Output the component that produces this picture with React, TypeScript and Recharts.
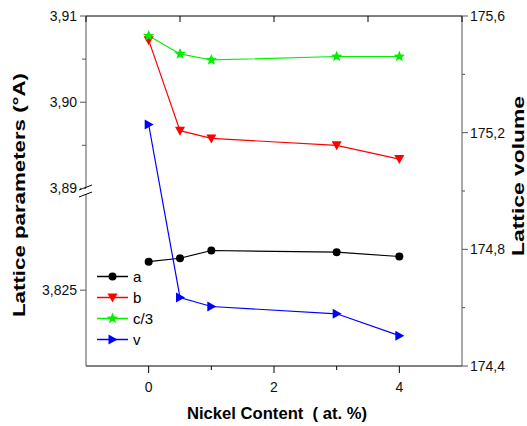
import {
    ComposedChart,
    Line,
    XAxis,
    YAxis,
    Legend,
    ReferenceDot,
    Label
} from "recharts";

const FONT = "'Liberation Sans', Arial, sans-serif";

// Nickel content (at. %)
const NICKEL = [0, 0.5, 1, 3, 4];
// lattice parameters (Å)
const A = [3.8283, 3.8287, 3.8296, 3.8294, 3.8289];
const B = [3.9072, 3.8967, 3.8958, 3.8950, 3.8934];
const C3 = [3.9077, 3.9056, 3.9049, 3.9053, 3.9053];
// lattice volume
const V = [175.228, 174.635, 174.604, 174.579, 174.504];

const X_MAJOR = [0, 2, 4];
const X_MINOR = [1, 3];
const LEFT_MAJOR = [3.91, 3.90, 3.89];
const LEFT_MINOR = [3.905, 3.895];
const LOWER_MAJOR = [3.825];
const RIGHT_MAJOR = [175.6, 175.2, 174.8, 174.4];
const RIGHT_MINOR = [175.4, 175.0, 174.6];

// the left axis is broken: the lower part (a) is shifted up by SHIFT
const SHIFT = 0.0532;
const BREAK_AT = 3.8897;
const LEFT_DOMAIN = [3.8694, 3.91];

const data = NICKEL.map((x, i) => ({
    x,
    a: A[i] + SHIFT,
    b: B[i],
    c3: C3[i],
    v: V[i],
}));

const MARKERS: Record<string, {kind: string, color: string}> = {
    a: {kind: "circle", color: "#000000"},
    b: {kind: "down", color: "#ff0000"},
    c3: {kind: "star", color: "#00f000"},
    v: {kind: "right", color: "#0000ff"},
};

const comma = (v: number, d: number) => v.toFixed(d).replace(".", ",");
const has = (list: number[], v: number) => list.some(t => Math.abs(t - v) < 1e-6);

function Marker({cx, cy, kind, color}: {cx: number, cy: number, kind: string, color: string}) {
    if (kind === "circle") return <circle cx={cx} cy={cy} r={4} fill={color}/>;
    if (kind === "down") {
        return <polygon points={`${cx - 5},${cy - 4} ${cx + 5},${cy - 4} ${cx},${cy + 5}`} fill={color}/>;
    }
    if (kind === "right") {
        return <polygon points={`${cx - 4},${cy - 5} ${cx - 4},${cy + 5} ${cx + 5},${cy}`} fill={color}/>;
    }
    const pts: string[] = [];
    for (let k = 0; k < 10; k++) {
        const r = k % 2 === 0 ? 6 : 2.6;
        const ang = -Math.PI / 2 + k * Math.PI / 5;
        pts.push(`${cx + r * Math.cos(ang)},${cy + r * Math.sin(ang)}`);
    }
    return <polygon points={pts.join(" ")} fill={color}/>;
}

const dotFor = (key: string) => (props: any) => (
    <Marker key={`${key}-${props.index}`} cx={props.cx} cy={props.cy}
            kind={MARKERS[key].kind} color={MARKERS[key].color}/>
);

function XTick(props: any) {
    const {x, y, payload} = props;
    const major = has(X_MAJOR, payload.value);
    return (
        <g>
            <line x1={x} y1={y} x2={x} y2={y + (major ? 7 : 4)} stroke="#000"/>
            {major && (
                <text x={x} y={y + 26} textAnchor="middle" fontSize={14} fontFamily={FONT} fill="#111">
                    {comma(payload.value, 0)}
                </text>
            )}
        </g>
    );
}

function TopTick(props: any) {
    const {x, y} = props;
    return <line x1={x} y1={y} x2={x} y2={y + 6} stroke="#000"/>;
}

function LeftTick(props: any) {
    const {x, y, payload} = props;
    const u = payload.value;
    const lower = u < BREAK_AT - 0.001;
    const real = lower ? u - SHIFT : u;
    const major = lower ? has(LOWER_MAJOR, real) : has(LEFT_MAJOR, real);
    return (
        <g>
            <line x1={x - (major ? 6 : 4)} y1={y} x2={x} y2={y} stroke="#555"/>
            {major && (
                <text x={x - 9} y={y} dy="0.36em" textAnchor="end" fontSize={14} fontFamily={FONT} fill="#111">
                    {comma(real, lower ? 3 : 2)}
                </text>
            )}
        </g>
    );
}

function RightTick(props: any) {
    const {x, y, payload} = props;
    const major = has(RIGHT_MAJOR, payload.value);
    return (
        <g>
            <line x1={x} y1={y} x2={x + (major ? 6 : 3)} y2={y} stroke="#555"/>
            {major && (
                <text x={x + 8} y={y} dy="0.36em" textAnchor="start" fontSize={14} fontFamily={FONT} fill="#111">
                    {comma(payload.value, 1)}
                </text>
            )}
        </g>
    );
}

function VTitle({cx, cy, text, length}: {cx: number, cy: number, text: string, length: number}) {
    return (
        <text x={cx} y={cy} transform={`rotate(-90 ${cx} ${cy})`} textAnchor="middle"
              dominantBaseline="central" fontWeight="bold" fontSize={17} fontFamily={FONT}
              textLength={length} lengthAdjust="spacingAndGlyphs" fill="#000">
            {text}
        </text>
    );
}

const leftTitle = (p: any) => (
    <VTitle cx={p.viewBox.x + 19} cy={p.viewBox.y + p.viewBox.height / 2 + 4}
            text="Lattice parameters (°A)" length={244}/>
);

const rightTitle = (p: any) => (
    <VTitle cx={p.viewBox.x + 56} cy={p.viewBox.y + p.viewBox.height / 2 - 15}
            text="Lattice volume" length={160}/>
);

const bottomTitle = (p: any) => (
    <text x={p.viewBox.x + p.viewBox.width / 2 + 3} y={p.viewBox.y + 53} textAnchor="middle"
          fontWeight="bold" fontSize={16} fontFamily={FONT} fill="#000" style={{whiteSpace: "pre"}}
          textLength={180} lengthAdjust="spacingAndGlyphs">
        {"Nickel Content  ( at. %)"}
    </text>
);

function BreakMark(props: any) {
    const {cx, cy} = props;
    return (
        <g>
            <rect x={cx - 2} y={cy - 3} width={4} height={6} fill="#fff"/>
            <line x1={cx - 7} y1={cy - 1} x2={cx + 6} y2={cy - 6} stroke="#000"/>
            <line x1={cx - 7} y1={cy + 6} x2={cx + 6} y2={cy + 1} stroke="#000"/>
        </g>
    );
}

function renderLegend(props: any) {
    const {payload} = props;
    return (
        <div style={{fontFamily: FONT, fontSize: 15, color: "#000"}}>
            {payload.map((p: any) => {
                const m = MARKERS[p.dataKey];
                return (
                    <div key={p.dataKey} style={{display: "flex", alignItems: "center", height: 21}}>
                        <svg width={36} height={21}>
                            <line x1={0} y1={10.5} x2={31} y2={10.5} stroke={m.color} strokeWidth={1.5}/>
                            <Marker cx={15.5} cy={10.5} kind={m.kind} color={m.color}/>
                        </svg>
                        <span>{p.value}</span>
                    </div>
                );
            })}
        </div>
    );
}

export default function App() {
    return (
        <div style={{position: "absolute", left: 0, top: 0, background: "#fff"}}>
            <ComposedChart
                width={527}
                height={426}
                data={data}
                margin={{top: 16, right: 0, bottom: 0, left: 0}}
            >
                <XAxis
                    xAxisId="b"
                    dataKey="x"
                    type="number"
                    domain={[-1, 5]}
                    ticks={[...X_MAJOR, ...X_MINOR].sort()}
                    interval={0}
                    tickSize={0}
                    tickMargin={0}
                    tickLine={false}
                    tick={XTick}
                    height={60}
                    stroke="#000"
                    allowDataOverflow
                >
                    <Label content={bottomTitle}/>
                </XAxis>
                <XAxis
                    xAxisId="t"
                    orientation="top"
                    type="number"
                    domain={[-1, 5]}
                    ticks={[...X_MAJOR, ...X_MINOR].sort()}
                    interval={0}
                    mirror
                    tickSize={0}
                    tickMargin={0}
                    tickLine={false}
                    tick={TopTick}
                    stroke="#000"
                    height={1}
                    allowDataOverflow
                />
                <YAxis
                    yAxisId="left"
                    type="number"
                    domain={LEFT_DOMAIN}
                    ticks={[...LEFT_MAJOR, ...LEFT_MINOR, ...LOWER_MAJOR.map(t => t + SHIFT)]}
                    interval={0}
                    width={86}
                    tickSize={0}
                    tickMargin={0}
                    tickLine={false}
                    tick={LeftTick}
                    stroke="#555"
                    allowDataOverflow
                >
                    <Label content={leftTitle}/>
                </YAxis>
                <YAxis
                    yAxisId="right"
                    orientation="right"
                    type="number"
                    domain={[174.4, 175.6]}
                    ticks={[...RIGHT_MAJOR, ...RIGHT_MINOR]}
                    interval={0}
                    width={65}
                    tickSize={0}
                    tickMargin={0}
                    tickLine={false}
                    tick={RightTick}
                    stroke="#555"
                    allowDataOverflow
                >
                    <Label content={rightTitle}/>
                </YAxis>

                <Legend
                    content={renderLegend}
                    layout="vertical"
                    align="center"
                    verticalAlign="middle"
                    wrapperStyle={{left: 97, top: 266, width: "auto"}}
                />

                <Line xAxisId="b" yAxisId="left" dataKey="a" name="a" stroke={MARKERS.a.color}
                      strokeWidth={1.2} dot={dotFor("a")} activeDot={false} isAnimationActive={false}/>
                <Line xAxisId="b" yAxisId="left" dataKey="b" name="b" stroke={MARKERS.b.color}
                      strokeWidth={1.2} dot={dotFor("b")} activeDot={false} isAnimationActive={false}/>
                <Line xAxisId="b" yAxisId="left" dataKey="c3" name="c/3" stroke={MARKERS.c3.color}
                      strokeWidth={1.2} dot={dotFor("c3")} activeDot={false} isAnimationActive={false}/>
                <Line xAxisId="b" yAxisId="right" dataKey="v" name="v" stroke={MARKERS.v.color}
                      strokeWidth={1.2} dot={dotFor("v")} activeDot={false} isAnimationActive={false}/>

                <ReferenceDot xAxisId="b" yAxisId="left" x={-1} y={BREAK_AT} r={1}
                              shape={BreakMark} ifOverflow="visible"/>
            </ComposedChart>
        </div>
    );
}
